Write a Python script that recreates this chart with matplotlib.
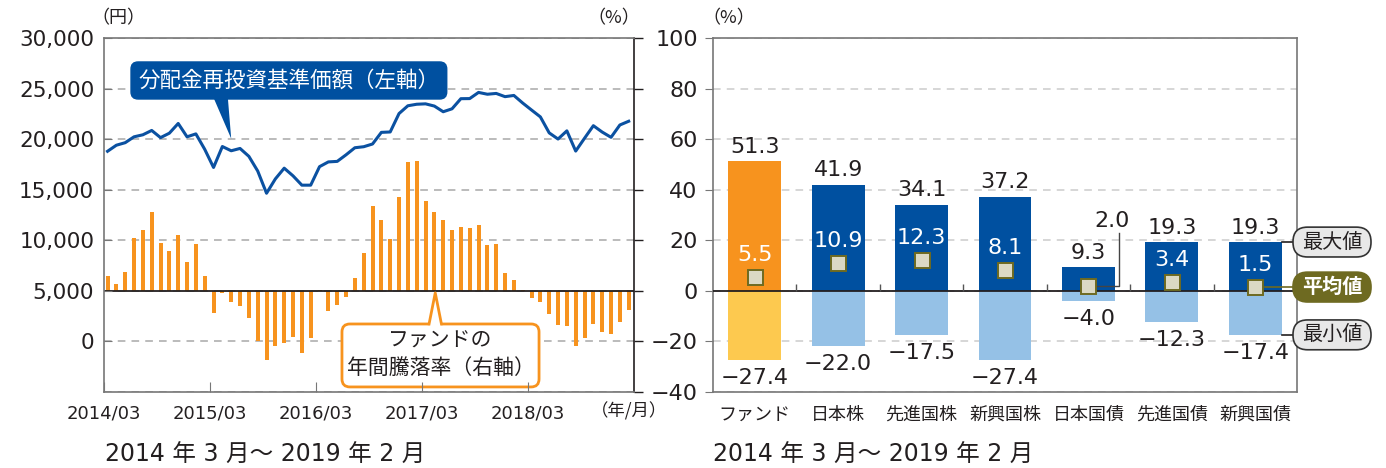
import matplotlib
matplotlib.use('Agg')
import numpy as np
import matplotlib.pyplot as plt
from matplotlib.patches import FancyBboxPatch
from matplotlib.ticker import FuncFormatter

plt.rcParams['font.family'] = ['DejaVu Sans', 'Noto Sans CJK JP']

# left chart: monthly NAV (yen) and 1-year return (%), 2014/03 - 2019/02
nav = [18800, 19400, 19650, 20230, 20430, 20860, 20150, 20590, 21550, 20230,
       20520, 19000, 17200, 19270, 18850, 19080, 18300, 16850, 14650, 16070,
       17130, 16370, 15450, 15450, 17280, 17750, 17800, 18450, 19150, 19250,
       19520, 20670, 20710, 22530, 23300, 23450, 23490, 23270, 22710, 23000,
       24000, 24010, 24620, 24440, 24520, 24200, 24320, 23570, 22880, 22200,
       20620, 20010, 20820, 18820, 20090, 21330, 20700, 20180, 21400, 21770]
ret = [5.9, 2.8, 7.5, 21.0, 24.2, 31.3, 19.0, 15.8, 22.2, 11.5,
       18.6, 5.9, -8.7, -0.7, -4.4, -5.9, -10.7, -19.8, -27.4, -21.8,
       -20.5, -18.3, -24.6, -18.7, 0.5, -8.0, -5.7, -2.5, 5.0, 14.8,
       33.4, 27.9, 20.7, 37.3, 50.8, 51.3, 35.7, 31.3, 27.9, 23.9,
       25.4, 25.0, 26.2, 18.3, 18.7, 7.2, 4.4, 0.4, -3.0, -4.6,
       -9.3, -13.4, -13.8, -22.0, -18.5, -13.0, -16.2, -17.0, -12.5, -7.7]
year_ticks = [0, 12, 24, 36, 48]
year_labels = ['2014/03', '2015/03', '2016/03', '2017/03', '2018/03']

# right chart: max / average / min of 1-year returns (%)
cats = ['ファンド', '日本株', '先進国株', '新興国株', '日本国債', '先進国債', '新興国債']
max_v = [51.3, 41.9, 34.1, 37.2, 9.3, 19.3, 19.3]
avg_v = [5.5, 10.9, 12.3, 8.1, 2.0, 3.4, 1.5]
min_v = [-27.4, -22.0, -17.5, -27.4, -4.0, -12.3, -17.4]

orange = '#f7931e'
yellow = '#fdc94f'
navy = '#0050a0'
lightblue = '#95c1e6'
linecol = '#0b51a1'
olive = '#6e6a21'
txt = '#231f20'
W, H = 1386, 468

fig = plt.figure(figsize=(W / 100, H / 100), dpi=100)

# ---------- left chart ----------
ax = fig.add_axes([104 / W, 76 / H, 530 / W, 354 / H])
ax2 = ax.twinx()
ax.set_zorder(ax2.get_zorder() + 1)
ax.patch.set_visible(False)

months = np.arange(len(nav)) + 0.4
ax2.bar(months, ret, width=0.45, color=orange, zorder=3)
ax2.set_ylim(-40, 100)
ax2.set_yticks(np.arange(-40, 101, 20))
ax2.grid(axis='y', ls=(0, (5, 4)), color='#a8a8a8', lw=1.1, zorder=0)
ax2.set_axisbelow(True)
ax2.axhline(0, color=txt, lw=1.3, zorder=4)
ax2.tick_params(axis='y', direction='out', length=6.5, width=1, color=txt, labelright=False)
for s in ['left', 'top', 'bottom']:
    ax2.spines[s].set_visible(False)
ax2.spines['right'].set_color(txt)
ax2.spines['right'].set_linewidth(1.2)

ax.plot(months, nav, color=linecol, lw=2.2, zorder=5)
ax.set_xlim(0, 60)
ax.set_ylim(-5000, 30000)
ax.set_yticks(np.arange(0, 30001, 5000))
ax.yaxis.set_major_formatter(FuncFormatter(lambda v, p: f'{int(v):,}'))
ax.tick_params(axis='y', direction='in', length=6, color='#777777', labelsize=15.5,
               labelcolor=txt, pad=7)
ax.set_xticks(year_ticks, year_labels)
ax.tick_params(axis='x', direction='in', length=7, color='#777777', labelsize=13,
               labelcolor=txt, pad=9)
ax.spines['right'].set_visible(False)
for s in ['left', 'top', 'bottom']:
    ax.spines[s].set_color('#777777')
    ax.spines[s].set_linewidth(1.2)

unit_font = ['Noto Sans CJK JP']
ax.text(1.6, 1.057, '（円）', transform=ax.get_xaxis_transform(), ha='center', va='center',
        fontsize=13, color=txt, family=unit_font)
ax.text(57.7, 1.057, '（%）', transform=ax.get_xaxis_transform(), ha='center', va='center',
        fontsize=13, color=txt, family=unit_font)
ax.text(59.4, -0.054, '（年/月）', transform=ax.get_xaxis_transform(), ha='center',
        va='center', fontsize=12.5, color=txt, clip_on=False, family=unit_font)

# callout: NAV line
box1 = FancyBboxPatch((3.06, 23970), 35.74, 3660, boxstyle='round,pad=0,rounding_size=0.8',
                      mutation_aspect=873, fc=navy, ec=navy, zorder=6)
ax.add_patch(box1)
ax.fill([12.3, 14.0, 14.4], [24300, 24300, 20050], color=navy, zorder=6, lw=0)
ax.text(20.93, 25800, '分配金再投資基準価額（左軸）', ha='center', va='center',
        fontsize=15.5, color='white', zorder=7)

# callout: annual return bars
box2 = FancyBboxPatch((26.94, -38.0), 22.31, 24.9, boxstyle='round,pad=0,rounding_size=0.9',
                      mutation_aspect=3.5, fc='white', ec=orange, lw=2, zorder=6)
ax2.add_patch(box2)
ax2.fill([36.8, 37.5, 38.2], [-14.2, -0.8, -14.2], color='white', zorder=7, lw=0)
ax2.plot([36.8, 37.5, 38.2], [-13.1, -0.8, -13.1], color=orange, lw=2, zorder=7,
         solid_joinstyle='round')
ax2.text(38.1, -19.6, 'ファンドの', ha='center', va='center', fontsize=15, color=txt, zorder=8)
ax2.text(38.1, -30.5, '年間騰落率（右軸）', ha='center', va='center', fontsize=15, color=txt,
         zorder=8)

# ---------- right chart ----------
ax3 = fig.add_axes([713 / W, 76 / H, 584 / W, 354 / H])
x = np.arange(len(cats))
up_cols = [orange] + [navy] * (len(cats) - 1)
lo_cols = [yellow] + [lightblue] * (len(cats) - 1)
bw = 0.635
ax3.bar(x, max_v, width=bw, color=up_cols, zorder=3)
ax3.bar(x, min_v, width=bw, color=lo_cols, zorder=3)
ax3.axhline(0, color=txt, lw=1.3, zorder=4)
ax3.vlines(x[:-1] + 0.5, 0, 2.8, color='#555555', lw=1, zorder=4)
ax3.plot(x, avg_v, 's', ms=10.8, mfc='#dbd9c4', mec=olive, mew=1.4, zorder=6)

ax3.set_xlim(-0.5, len(cats) - 0.5)
ax3.set_ylim(-40, 100)
ax3.set_yticks(np.arange(-40, 101, 20))
ax3.grid(axis='y', ls=(0, (5, 4)), color='#cccccc', lw=1.1, zorder=0)
ax3.set_axisbelow(True)
ax3.tick_params(axis='y', direction='out', length=6, color='#777777', labelsize=16,
                labelcolor=txt, pad=5)
ax3.set_xticks(x, cats)
ax3.tick_params(axis='x', length=0, labelsize=13, labelcolor=txt, pad=10)
for s in ax3.spines.values():
    s.set_color('#777777')
    s.set_linewidth(1.2)
ax3.text(-0.31, 1.057, '（%）', transform=ax3.get_xaxis_transform(), ha='center',
         va='center', fontsize=13, color=txt, family=unit_font)

for i in range(len(cats)):
    ax3.text(x[i], max_v[i] + 5.7, f'{max_v[i]:.1f}', ha='center', va='center',
             fontsize=16, color=txt, zorder=7)
    ax3.text(x[i], min_v[i] - 7.0, f'{min_v[i]:.1f}'.replace('-', '\u2212'), ha='center',
             va='center', fontsize=16, color=txt, zorder=7)
    if cats[i] == '日本国債':
        ax3.plot([x[i] + 0.1, x[i] + 0.37, x[i] + 0.37], [avg_v[i], avg_v[i], 23],
                 color='#444444', lw=1, zorder=5)
        ax3.text(x[i] + 0.28, 27.7, f'{avg_v[i]:.1f}', ha='center', va='center',
                 fontsize=16, color=txt, zorder=7)
    else:
        ax3.text(x[i], avg_v[i] + 8.7, f'{avg_v[i]:.1f}', ha='center', va='center',
                 fontsize=16, color='white', zorder=7)

# legend pills on the right
last = len(cats) - 1
pills = [('最大値', max_v[last], '#e8e8e8', txt, txt),
         ('平均値', avg_v[last], olive, 'white', olive),
         ('最小値', min_v[last], '#e8e8e8', txt, txt)]
for label, yv, fc, tc, lc in pills:
    x0 = last + bw / 2 if label != '平均値' else last + 0.12
    ax3.plot([x0, 6.47], [yv, yv], color=lc, lw=1.2, zorder=5, clip_on=False)
    pill = FancyBboxPatch((6.452, yv - 5.9), 0.935, 11.8,
                          boxstyle='round,pad=0,rounding_size=0.175', mutation_aspect=33,
                          fc=fc, ec='#333333' if fc != olive else olive, lw=1.2,
                          zorder=8, clip_on=False)
    ax3.add_patch(pill)
    ax3.text(6.92, yv, label, ha='center', va='center', fontsize=14.5, color=tc,
             fontweight='bold' if fc == olive else 'normal', zorder=9, clip_on=False)

fig.text(105 / W, 1 - 455 / H, '2014 年 3 月〜 2019 年 2 月', ha='left', va='center',
         fontsize=17, color=txt)
fig.text(713 / W, 1 - 455 / H, '2014 年 3 月〜 2019 年 2 月', ha='left', va='center',
         fontsize=17, color=txt)

fig.savefig('out.png', dpi=100)
